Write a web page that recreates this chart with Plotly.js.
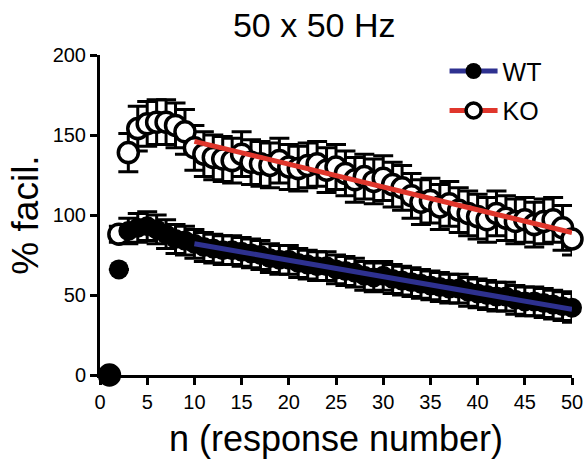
<!DOCTYPE html>
<html>
<head>
<meta charset="utf-8">
<script src="https://cdn.plot.ly/plotly-3.0.1.min.js"></script>
<style>html,body{margin:0;padding:0;background:#fff;}#chart{width:584px;height:461px;}</style>
</head>
<body>
<div id="chart"></div>
<script>
const n = Array.from({length: 50}, (_, i) => i + 1);
const wtMean = [0,66,90,92,93,91,88,85,84,82,80,79,78,78,77,76,75,73,72,72,70,69,68,68,66,65,64,62,61,62,60,59,58,57,56,55,54,54,52,51,50,49,49,47,46,46,45,44,43,42];
const wtErr = [0,0,8,9,9,9,9,9,9,9,9,9,9,9,9,9,9,9,9,9,9,9,9,9,9,9,9,9,9,9,9,9,9,9,9,9,9,9,9,9,9,9,9,9,9,9,9,9,9,9];
const koMean = [0,88,139,154,157,158,158,156,152,142,138,136,135,134,138,133,132,131,134,130,129,131,132,128,130,126,122,124,121,123,119,117,112,108,109,105,107,103,101,99,97,101,98,96,97,94,96,97,92,85];
const koErr = [0,5,12,14,14,14,14,14,14,14,14,14,14,14,14,14,14,14,14,14,14,14,14,14,14,14,14,14,14,14,14,14,14,14,14,14,14,14,14,14,14,14,14,14,14,14,14,14,14,10];
const fitX = [10, 50];
const wtFit = [82, 41];
const koFit = [146, 89];
const xTicks = [0,5,10,15,20,25,30,35,40,45,50];
const yTicks = [0,50,100,150,200];

const blue = '#2e3190';
const red = '#e0362c';

const traces = [
  {x: n, y: koMean, type: 'scatter', mode: 'markers', showlegend: false, cliponaxis: false,
   marker: {symbol: 'circle', size: 20, color: '#fff', line: {color: '#000', width: 3.5}},
   error_y: {type: 'data', array: koErr, visible: true, color: '#000', thickness: 3, width: 10}},
  {x: n, y: wtMean, type: 'scatter', mode: 'markers', showlegend: false, cliponaxis: false,
   marker: {symbol: 'circle', size: 20, color: '#000'},
   error_y: {type: 'data', array: wtErr, visible: true, color: '#000', thickness: 3, width: 10}},
  {x: fitX, y: wtFit, type: 'scatter', mode: 'lines', showlegend: false, line: {color: blue, width: 5}},
  {x: fitX, y: koFit, type: 'scatter', mode: 'lines', showlegend: false, line: {color: red, width: 5}},
  {x: [null], y: [null], type: 'scatter', mode: 'lines+markers', name: 'WT', legendgroup: 'a',
   line: {color: blue, width: 5}, marker: {symbol: 'circle', size: 18, color: '#000'}},
  {x: [null], y: [null], type: 'scatter', mode: 'lines+markers', name: 'KO', legendgroup: 'b',
   line: {color: red, width: 5}, marker: {symbol: 'circle', size: 15, color: '#fff', line: {color: '#000', width: 3.5}}}
];

const layout = {
  width: 584, height: 461,
  margin: {l: 100, r: 12, t: 55, b: 86},
  paper_bgcolor: '#fff', plot_bgcolor: '#fff',
  font: {family: 'Liberation Sans, Arial, sans-serif', color: '#000'},
  title: {text: '50 x 50 Hz', font: {size: 34, color: '#000'}, x: 0.538, xref: 'container', xanchor: 'center', y: 0.945, yref: 'container', yanchor: 'middle'},
  xaxis: {
    range: [0, 50], tickvals: xTicks, ticktext: xTicks.map(String),
    showgrid: false, zeroline: false, showline: true, linecolor: '#000', linewidth: 3,
    ticks: 'outside', ticklen: 7, tickwidth: 3, tickcolor: '#000',
    tickfont: {size: 20}, title: {text: 'n (response number)', font: {size: 36}, standoff: 14}
  },
  yaxis: {
    range: [0, 200], tickvals: yTicks, ticktext: yTicks.map(String),
    showgrid: false, zeroline: false, showline: true, linecolor: '#000', linewidth: 3,
    ticks: 'outside', ticklen: 7, tickwidth: 3, tickcolor: '#000',
    tickfont: {size: 20}, title: {text: '% facil.', font: {size: 37}, standoff: 3}
  },
  legend: {x: 0.73, y: 1.021, xanchor: 'left', yanchor: 'top', font: {size: 25}, bgcolor: 'rgba(0,0,0,0)', itemwidth: 48, traceorder: 'grouped', tracegroupgap: 4}
};

Plotly.newPlot('chart', traces, layout, {displayModeBar: false, staticPlot: true});
</script>
</body>
</html>
